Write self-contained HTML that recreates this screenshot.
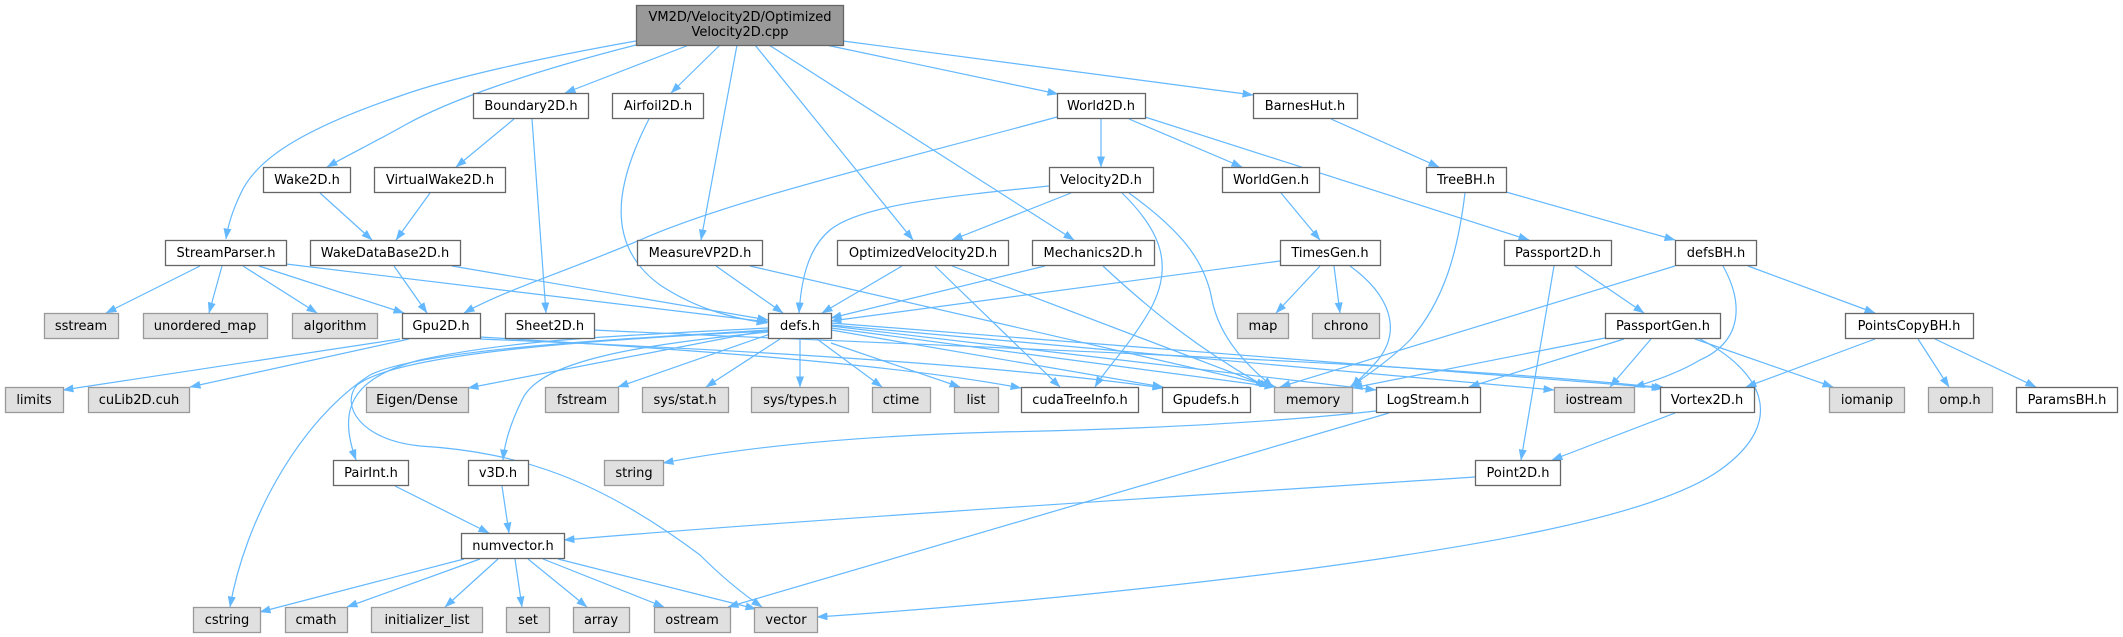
<!DOCTYPE html>
<html><head><meta charset="utf-8">
<style>
html,body{margin:0;padding:0;background:#fff;}
svg{display:block;}
.e path{fill:none;stroke:#63b8ff;stroke-width:1.2;marker-end:url(#a);}
.n rect{fill:#fff;stroke:#666;stroke-width:1.3;}
.x rect{fill:#e0e0e0;stroke:#999;stroke-width:1.3;}
.r rect{fill:#999;stroke:#666;stroke-width:1.3;}
text{font-family:"DejaVu Sans","Liberation Sans",sans-serif;font-size:13px;fill:#000;text-anchor:middle;}
</style></head>
<body>
<svg width="2123" height="637" viewBox="0 0 2123 637" xmlns="http://www.w3.org/2000/svg">
<defs><marker id="a" markerWidth="11" markerHeight="8" refX="10.5" refY="4" orient="auto" markerUnits="userSpaceOnUse"><path d="M0,0 L11,4 L0,8 z" fill="#63b8ff"/></marker></defs>
<g class="e">
<path d="M636,41 C540,58 450,78 400,96 C300,130 255,160 240,195 C232,212 228,225 226,239"/>
<path d="M636,45 C530,72 450,100 405,125 C375,142 348,155 327,167"/>
<path d="M689,45 L565,93"/>
<path d="M720,45 L671,93"/>
<path d="M737,45 L701,240"/>
<path d="M755,45 L913,240"/>
<path d="M769,45 L1074,240"/>
<path d="M826,45 L1058,94"/>
<path d="M843,41 L1253,95"/>
<path d="M514,119 L456,167"/>
<path d="M532,119 L546,313"/>
<path d="M649,119 C615,185 605,245 660,285 C695,308 730,318 767,323"/>
<path d="M1101,119 L1101,167"/>
<path d="M1129,119 L1242,167"/>
<path d="M1145,117 L1529,240"/>
<path d="M1057,117 C900,160 730,200 640,240 C570,270 505,290 464,313"/>
<path d="M1331,119 L1439,167"/>
<path d="M320,193 L372,240"/>
<path d="M430,193 L396,240"/>
<path d="M1049,186 C950,196 860,205 830,230 C806,250 801,285 799,313"/>
<path d="M1071,193 L952,240"/>
<path d="M1122,193 C1160,230 1175,265 1150,310 C1130,345 1105,370 1095,387"/>
<path d="M1129,193 C1180,230 1205,260 1212,300 C1220,340 1250,368 1273,387"/>
<path d="M1281,193 L1320,240"/>
<path d="M1506,192 L1675,240"/>
<path d="M1465,193 C1458,250 1445,300 1410,340 C1390,360 1365,377 1350,387"/>
<path d="M200,266 L106,313"/>
<path d="M222,266 L209,313"/>
<path d="M243,266 L317,313"/>
<path d="M259,266 L404,313"/>
<path d="M286,264 L768,322"/>
<path d="M394,266 L427,313"/>
<path d="M452,266 L768,320"/>
<path d="M716,266 L783,313"/>
<path d="M750,266 L1276,387"/>
<path d="M902,266 L822,313"/>
<path d="M935,266 L1060,387"/>
<path d="M952,266 L1270,387"/>
<path d="M1045,266 L831,318"/>
<path d="M1103,266 C1150,310 1200,350 1266,387"/>
<path d="M1280,261 L831,321"/>
<path d="M1320,266 L1276,313"/>
<path d="M1334,266 L1340,313"/>
<path d="M1350,266 C1390,295 1402,330 1378,360 C1368,372 1358,380 1352,387"/>
<path d="M1575,266 L1644,313"/>
<path d="M1554,266 L1521,460"/>
<path d="M1675,266 L1280,387"/>
<path d="M1723,266 C1742,300 1745,340 1700,360 C1680,372 1658,380 1634,387"/>
<path d="M1748,266 L1875,313"/>
<path d="M400,339 L63,390"/>
<path d="M409,339 L190,387"/>
<path d="M480,337 C700,350 900,365 1021,388"/>
<path d="M480,339 C750,350 1000,365 1163,388"/>
<path d="M594,330 C900,345 1400,360 1665,388"/>
<path d="M768,330 L468,388"/>
<path d="M773,333 L618,387"/>
<path d="M780,339 L706,387"/>
<path d="M800,339 L800,387"/>
<path d="M817,339 L882,387"/>
<path d="M831,343 L960,387"/>
<path d="M831,330 L1163,387"/>
<path d="M831,328 L1275,387"/>
<path d="M831,326 L1376,390"/>
<path d="M831,325 L1554,390"/>
<path d="M831,323 L1662,388"/>
<path d="M768,332 C640,345 540,360 522,400 C512,420 505,440 503,460"/>
<path d="M768,328 C640,335 520,338 420,360 C350,378 338,410 356,460"/>
<path d="M768,330 C600,340 420,350 370,375 C300,420 245,520 230,607"/>
<path d="M768,331 C600,340 400,352 357,385 C340,405 360,440 420,446 C520,452 600,480 700,555 C720,575 740,592 762,607"/>
<path d="M1376,411 C1250,425 1100,430 1000,432 C850,436 740,448 663,463"/>
<path d="M1389,413 L728,607"/>
<path d="M1651,339 L1610,387"/>
<path d="M1695,339 L1833,387"/>
<path d="M1624,339 L1469,387"/>
<path d="M1605,338 L1352,388"/>
<path d="M1700,339 C1760,370 1790,420 1720,470 C1650,520 1450,550 1300,570 C1100,595 950,608 817,617"/>
<path d="M1875,339 L1746,387"/>
<path d="M1918,339 L1949,387"/>
<path d="M1935,339 L2036,387"/>
<path d="M1675,413 L1552,460"/>
<path d="M1475,477 C1200,495 800,520 564,540"/>
<path d="M395,486 L489,533"/>
<path d="M502,486 L509,533"/>
<path d="M464,559 L260,612"/>
<path d="M480,559 L347,607"/>
<path d="M498,559 L445,607"/>
<path d="M515,559 L522,607"/>
<path d="M528,559 L587,607"/>
<path d="M543,559 L664,607"/>
<path d="M558,559 L756,609"/>
</g>

<g class="r"><rect x="636.5" y="5.5" width="207" height="40"/></g>
<text x="740" y="21">VM2D/Velocity2D/Optimized</text>
<text x="740" y="36">Velocity2D.cpp</text>

<g class="n">
<rect x="473.5" y="93.5" width="115" height="25"/>
<rect x="612.5" y="93.5" width="91" height="25"/>
<rect x="1057.5" y="93.5" width="88" height="25"/>
<rect x="1253.5" y="93.5" width="104" height="25"/>
<rect x="263.5" y="167.5" width="87" height="25"/>
<rect x="374.5" y="167.5" width="131" height="25"/>
<rect x="1049.5" y="167.5" width="104" height="25"/>
<rect x="1222.5" y="167.5" width="97" height="25"/>
<rect x="1426.5" y="167.5" width="80" height="25"/>
<rect x="165.5" y="240.5" width="121" height="25"/>
<rect x="310.5" y="240.5" width="150" height="25"/>
<rect x="637.5" y="240.5" width="125" height="25"/>
<rect x="837.5" y="240.5" width="171" height="25"/>
<rect x="1032.5" y="240.5" width="122" height="25"/>
<rect x="1280.5" y="240.5" width="100" height="25"/>
<rect x="1504.5" y="240.5" width="107" height="25"/>
<rect x="1675.5" y="240.5" width="81" height="25"/>
<rect x="402.5" y="313.5" width="78" height="25"/>
<rect x="505.5" y="313.5" width="89" height="25"/>
<rect x="768.5" y="313.5" width="63" height="25"/>
<rect x="1605.5" y="313.5" width="115" height="25"/>
<rect x="1845.5" y="313.5" width="128" height="25"/>
<rect x="1021.5" y="387.5" width="117" height="25"/>
<rect x="1162.5" y="387.5" width="88" height="25"/>
<rect x="1376.5" y="387.5" width="104" height="25"/>
<rect x="1660.5" y="387.5" width="94" height="25"/>
<rect x="2016.5" y="387.5" width="101" height="25"/>
<rect x="333.5" y="460.5" width="75" height="25"/>
<rect x="468.5" y="460.5" width="60" height="25"/>
<rect x="1475.5" y="460.5" width="85" height="25"/>
<rect x="461.5" y="533.5" width="103" height="25"/>
</g>
<g class="x">
<rect x="44.5" y="313.5" width="74" height="25"/>
<rect x="143.5" y="313.5" width="124" height="25"/>
<rect x="292.5" y="313.5" width="85" height="25"/>
<rect x="1237.5" y="313.5" width="51" height="25"/>
<rect x="1312.5" y="313.5" width="67" height="25"/>
<rect x="5.5" y="387.5" width="58" height="25"/>
<rect x="88.5" y="387.5" width="101" height="25"/>
<rect x="366.5" y="387.5" width="102" height="25"/>
<rect x="545.5" y="387.5" width="73" height="25"/>
<rect x="642.5" y="387.5" width="86" height="25"/>
<rect x="751.5" y="387.5" width="97" height="25"/>
<rect x="872.5" y="387.5" width="58" height="25"/>
<rect x="954.5" y="387.5" width="44" height="25"/>
<rect x="1274.5" y="387.5" width="78" height="25"/>
<rect x="1554.5" y="387.5" width="80" height="25"/>
<rect x="1829.5" y="387.5" width="75" height="25"/>
<rect x="1928.5" y="387.5" width="64" height="25"/>
<rect x="604.5" y="460.5" width="59" height="25"/>
<rect x="193.5" y="607.5" width="67" height="25"/>
<rect x="285.5" y="607.5" width="62" height="25"/>
<rect x="371.5" y="607.5" width="111" height="25"/>
<rect x="506.5" y="607.5" width="43" height="25"/>
<rect x="573.5" y="607.5" width="56" height="25"/>
<rect x="654.5" y="607.5" width="76" height="25"/>
<rect x="754.5" y="607.5" width="63" height="25"/>
</g>

<text x="531" y="110">Boundary2D.h</text>
<text x="658" y="110">Airfoil2D.h</text>
<text x="1101" y="110">World2D.h</text>
<text x="1305" y="110">BarnesHut.h</text>
<text x="307" y="184">Wake2D.h</text>
<text x="440" y="184">VirtualWake2D.h</text>
<text x="1101" y="184">Velocity2D.h</text>
<text x="1271" y="184">WorldGen.h</text>
<text x="1466" y="184">TreeBH.h</text>
<text x="226" y="257">StreamParser.h</text>
<text x="385" y="257">WakeDataBase2D.h</text>
<text x="700" y="257">MeasureVP2D.h</text>
<text x="923" y="257">OptimizedVelocity2D.h</text>
<text x="1093" y="257">Mechanics2D.h</text>
<text x="1330" y="257">TimesGen.h</text>
<text x="1558" y="257">Passport2D.h</text>
<text x="1716" y="257">defsBH.h</text>
<text x="81" y="330">sstream</text>
<text x="205" y="330">unordered_map</text>
<text x="335" y="330">algorithm</text>
<text x="441" y="330">Gpu2D.h</text>
<text x="550" y="330">Sheet2D.h</text>
<text x="800" y="330">defs.h</text>
<text x="1263" y="330">map</text>
<text x="1346" y="330">chrono</text>
<text x="1663" y="330">PassportGen.h</text>
<text x="1909" y="330">PointsCopyBH.h</text>
<text x="34" y="404">limits</text>
<text x="139" y="404">cuLib2D.cuh</text>
<text x="417" y="404">Eigen/Dense</text>
<text x="582" y="404">fstream</text>
<text x="685" y="404">sys/stat.h</text>
<text x="800" y="404">sys/types.h</text>
<text x="901" y="404">ctime</text>
<text x="976" y="404">list</text>
<text x="1080" y="404">cudaTreeInfo.h</text>
<text x="1206" y="404">Gpudefs.h</text>
<text x="1313" y="404">memory</text>
<text x="1428" y="404">LogStream.h</text>
<text x="1594" y="404">iostream</text>
<text x="1707" y="404">Vortex2D.h</text>
<text x="1867" y="404">iomanip</text>
<text x="1960" y="404">omp.h</text>
<text x="2067" y="404">ParamsBH.h</text>
<text x="371" y="477">PairInt.h</text>
<text x="498" y="477">v3D.h</text>
<text x="634" y="477">string</text>
<text x="1518" y="477">Point2D.h</text>
<text x="513" y="550">numvector.h</text>
<text x="227" y="624">cstring</text>
<text x="316" y="624">cmath</text>
<text x="427" y="624">initializer_list</text>
<text x="528" y="624">set</text>
<text x="601" y="624">array</text>
<text x="692" y="624">ostream</text>
<text x="786" y="624">vector</text>
</svg>
</body></html>
